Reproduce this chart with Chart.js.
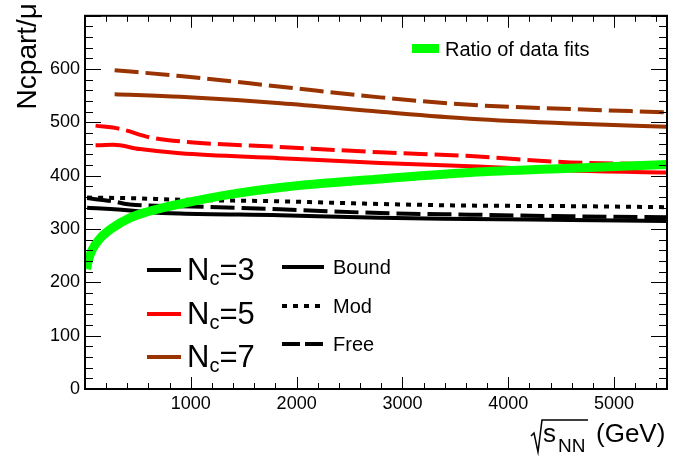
<!DOCTYPE html>
<html>
<head>
<meta charset="utf-8">
<script src="https://cdn.jsdelivr.net/npm/chart.js@4.4.1/dist/chart.umd.min.js"></script>
<style>
html,body{margin:0;padding:0;background:#fff;}
#wrap{width:700px;height:459px;}
</style>
</head>
<body>
<div id="wrap"><canvas id="c" width="700" height="459"></canvas></div>
<script>
// ---- data ----
const xTicks = [1000, 2000, 3000, 4000, 5000];
const yTicks = [0, 100, 200, 300, 400, 500, 600];

const xRatio = [15, 30, 70, 140, 265, 425, 583, 740, 898, 1371, 1844, 2789, 3640, 4586, 5500];
const yRatio = [225, 240, 262, 282, 303, 321, 332, 340, 347, 365, 378, 394, 406, 414, 421];

const xNc3Bound = [20, 425, 583, 898, 1844, 2789, 3640, 4586, 5500];
const yNc3Bound = [340, 335, 332, 329, 326, 321, 319, 317, 315];
const xNc3Mod = [20, 425, 898, 1844, 2789, 3640, 4586, 5500];
const yNc3Mod = [359, 358, 355, 352, 347, 344, 343, 341];
const xNc3Free = [20, 265, 425, 898, 1844, 2789, 3640, 4586, 5500];
const yNc3Free = [358, 352, 346, 343, 337, 330, 327, 324, 322];

const xNc5Bound = [100, 265, 520, 898, 1844, 2789, 3640, 4586, 5500];
const yNc5Bound = [457, 458, 450, 442, 433, 424, 418, 410, 406];
const xNc5Free = [100, 330, 615, 993, 1844, 2789, 3640, 4586, 5500];
const yNc5Free = [494, 488, 472, 463, 454, 444, 437, 425, 422];

const xNc7Bound = [280, 900, 1850, 2790, 3640, 4590, 5500];
const yNc7Bound = [553, 548, 536, 520, 507, 498, 492];
const xNc7Free = [280, 900, 1850, 2790, 3640, 4590, 5500];
const yNc7Free = [598, 587, 567, 547, 533, 525, 519];

const BLACK = '#000000', RED = '#ff0000', BROWN = '#993300', GREEN = '#00ff00';
const FONT = "'Liberation Sans', Arial, Helvetica, sans-serif";

function pts(xs, ys) { return xs.map((x, i) => ({x: x, y: ys[i]})); }
function ds(xs, ys, color, width, dash) {
  return {
    data: pts(xs, ys), borderColor: color, backgroundColor: color,
    borderWidth: width, borderDash: dash || [], pointRadius: 0,
    cubicInterpolationMode: 'monotone', fill: false, borderCapStyle: 'butt'
  };
}

const DASH = [24, 7], DOT = [5, 6];

const datasets = [
  ds(xRatio, yRatio, GREEN, 9),
  ds(xNc7Bound, yNc7Bound, BROWN, 4),
  ds(xNc7Free, yNc7Free, BROWN, 4, DASH),
  ds(xNc5Bound, yNc5Bound, RED, 4),
  ds(xNc5Free, yNc5Free, RED, 4, DASH),
  ds(xNc3Bound, yNc3Bound, BLACK, 4),
  ds(xNc3Mod, yNc3Mod, BLACK, 4, DOT),
  ds(xNc3Free, yNc3Free, BLACK, 4, DASH)
];

const framePlugin = {
  id: 'frame',
  afterDatasetsDraw(chart) {
    const ctx = chart.ctx, a = chart.chartArea;
    const xs = chart.scales.x, ys = chart.scales.y;
    ctx.save();
    ctx.strokeStyle = '#000';
    ctx.lineWidth = 1;
    for (let v = 0; v <= 5500; v += 200) {
      const px = Math.round(xs.getPixelForValue(v)) + 0.5;
      const L = (v % 1000 === 0) ? 12 : 6;
      ctx.beginPath();
      ctx.moveTo(px, a.bottom); ctx.lineTo(px, a.bottom - L);
      ctx.moveTo(px, a.top); ctx.lineTo(px, a.top + L);
      ctx.stroke();
    }
    for (let v = 0; v <= 700; v += 20) {
      const py = Math.round(ys.getPixelForValue(v)) + 0.5;
      const L = (v % 100 === 0) ? 16 : 8;
      ctx.beginPath();
      ctx.moveTo(a.left, py); ctx.lineTo(a.left + L, py);
      ctx.moveTo(a.right, py); ctx.lineTo(a.right - L, py);
      ctx.stroke();
    }
    ctx.lineWidth = 2;
    ctx.strokeRect(a.left, a.top, a.right - a.left, a.bottom - a.top);
    ctx.restore();
  },
  afterDraw(chart) {
    const ctx = chart.ctx;
    ctx.save();
    ctx.fillStyle = '#000';
    ctx.textBaseline = 'alphabetic';
    // y title
    ctx.save();
    ctx.translate(36, 3);
    ctx.rotate(-Math.PI / 2);
    ctx.textAlign = 'right';
    ctx.font = '28px ' + FONT;
    ctx.fillText('Ncpart/\u03BC', 0, 0);
    ctx.restore();
    // x title
    ctx.textAlign = 'left';
    ctx.lineWidth = 1.5;
    ctx.strokeStyle = '#000';
    ctx.beginPath();
    ctx.moveTo(531, 436); ctx.lineTo(534, 433); ctx.lineTo(538, 452);
    ctx.lineTo(542, 420); ctx.lineTo(588, 420);
    ctx.stroke();
    ctx.font = '26px ' + FONT;
    ctx.fillText('s', 543, 442);
    ctx.font = '19px ' + FONT;
    ctx.fillText('NN', 558, 452);
    ctx.font = '26px ' + FONT;
    ctx.fillText('(GeV)', 596, 442);

    // legend 1
    ctx.fillStyle = GREEN;
    ctx.fillRect(412, 44, 27, 9);
    ctx.fillStyle = '#000';
    ctx.font = '20px ' + FONT;
    ctx.fillText('Ratio of data fits', 445, 56);

    // legend 2
    const nc = [['3', BLACK, 270], ['5', RED, 314], ['7', BROWN, 357]];
    nc.forEach(([n, col, y]) => {
      ctx.strokeStyle = col; ctx.lineWidth = 4;
      ctx.beginPath(); ctx.moveTo(147, y); ctx.lineTo(181, y); ctx.stroke();
      ctx.fillStyle = '#000';
      ctx.font = '31px ' + FONT;
      ctx.fillText('N', 187, y + 10);
      const w = ctx.measureText('N').width;
      ctx.font = '20px ' + FONT;
      ctx.fillText('c', 187 + w, y + 15);
      const w2 = ctx.measureText('c').width;
      ctx.font = '31px ' + FONT;
      ctx.fillText('=' + n, 187 + w + w2, y + 10);
    });
    // legend 3
    const st = [['Bound', null, 267], ['Mod', [5, 6], 306], ['Free', [18, 5], 344]];
    st.forEach(([lab, dash, y]) => {
      ctx.strokeStyle = '#000'; ctx.lineWidth = 4;
      ctx.setLineDash(dash || []);
      ctx.beginPath(); ctx.moveTo(282, y); ctx.lineTo(324, y); ctx.stroke();
      ctx.setLineDash([]);
      ctx.fillStyle = '#000';
      ctx.font = '20px ' + FONT;
      ctx.fillText(lab, 333, y + 7);
    });
    ctx.restore();
  }
};

new Chart(document.getElementById('c'), {
  type: 'line',
  data: { datasets: datasets },
  options: {
    responsive: false,
    animation: false,
    devicePixelRatio: 1,
    layout: { padding: { left: 0, right: 33, top: 3, bottom: 0 } },
    plugins: { legend: { display: false }, tooltip: { enabled: false } },
    scales: {
      x: {
        type: 'linear', min: 0, max: 5500,
        grid: { display: false, drawTicks: false },
        border: { display: false },
        afterBuildTicks: s => { s.ticks = xTicks.map(v => ({value: v})); },
        afterFit: s => { s.height = 70; },
        ticks: { color: '#000', font: { size: 18, family: FONT }, padding: 4, maxRotation: 0, autoSkip: false,
                 callback: v => String(v) }
      },
      y: {
        type: 'linear', min: 0, max: 700,
        grid: { display: false, drawTicks: false },
        border: { display: false },
        afterBuildTicks: s => { s.ticks = yTicks.map(v => ({value: v})); },
        afterFit: s => { s.width = 85; },
        ticks: { color: '#000', font: { size: 18, family: FONT }, padding: 5, autoSkip: false,
                 callback: v => String(v) }
      }
    }
  },
  plugins: [framePlugin]
});
</script>
</body>
</html>
